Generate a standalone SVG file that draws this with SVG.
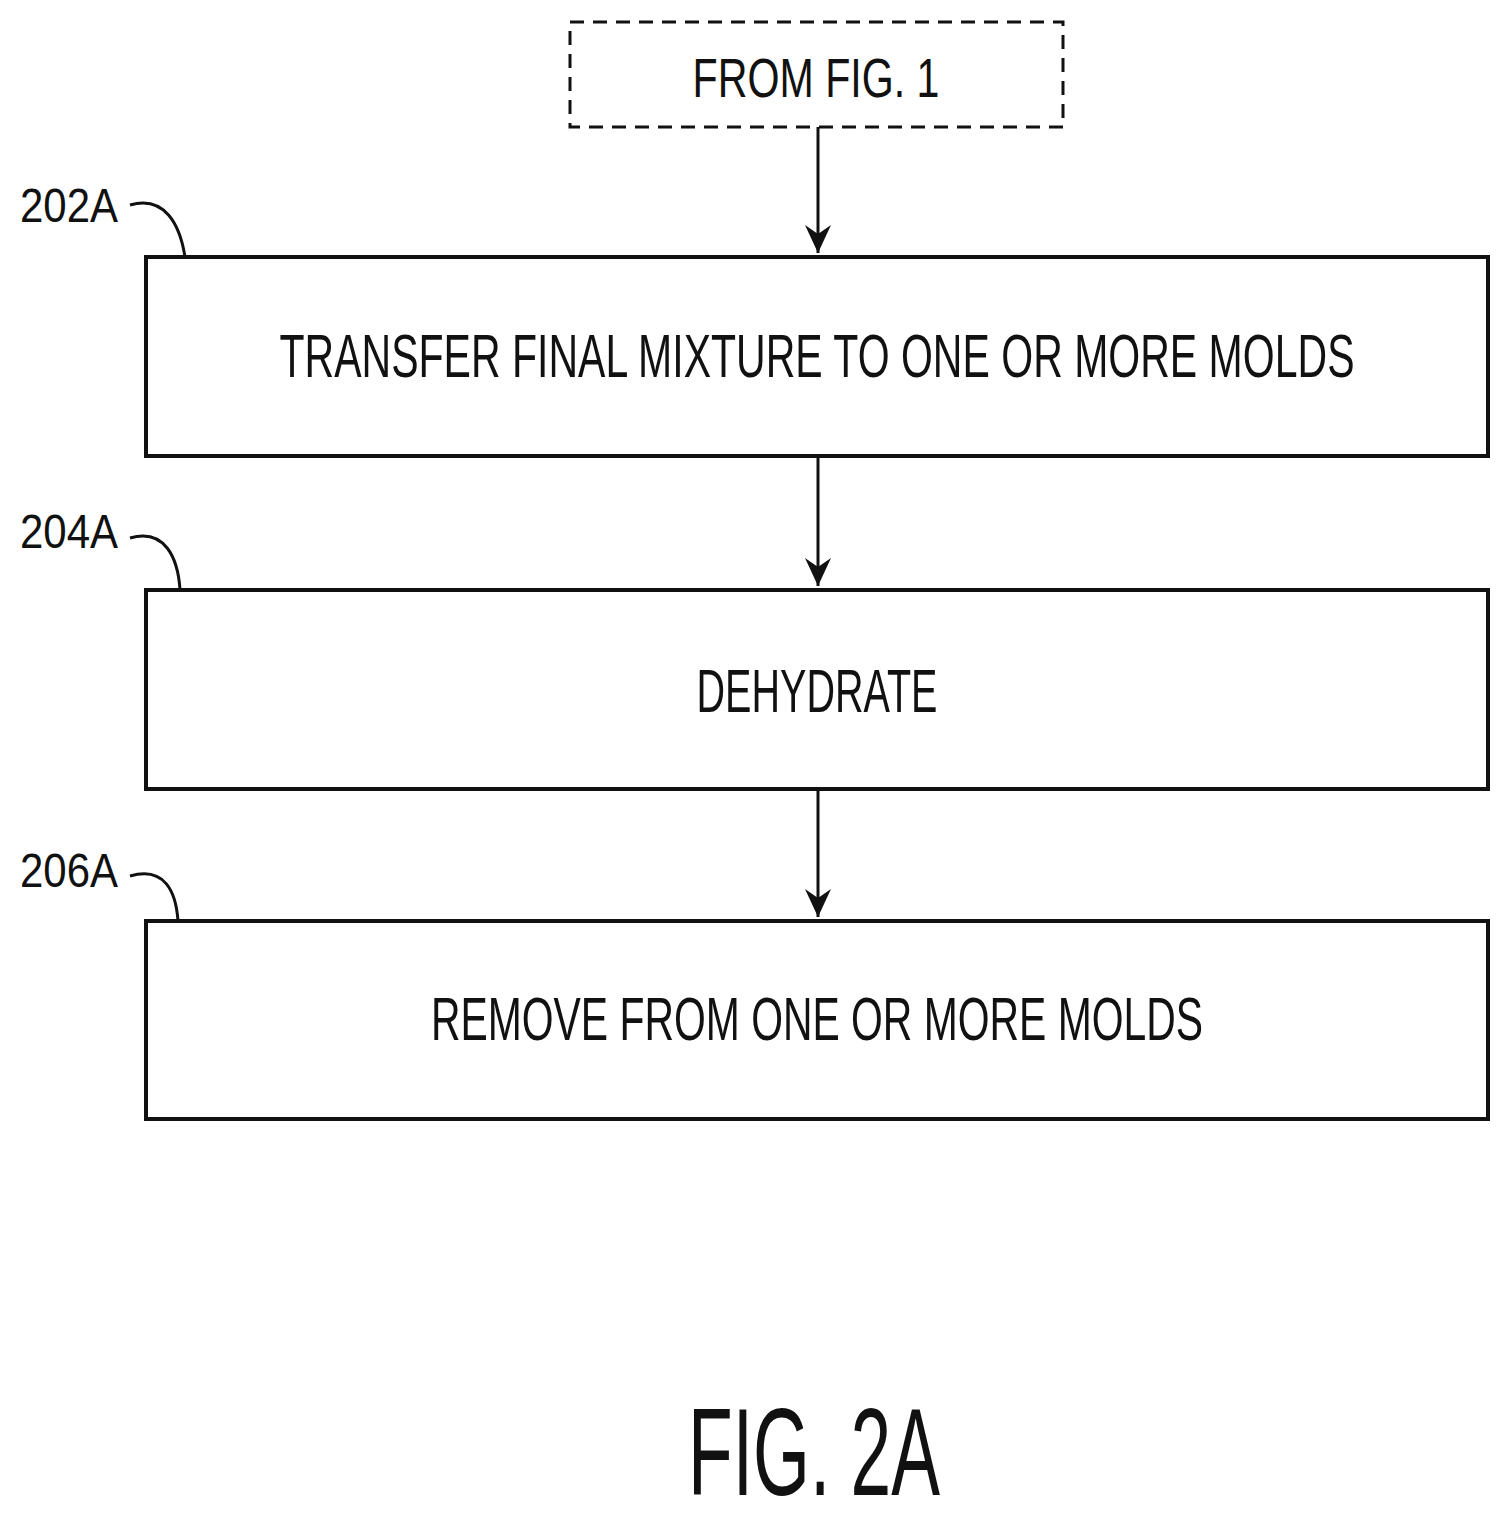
<svg xmlns="http://www.w3.org/2000/svg" width="1512" height="1517" viewBox="0 0 1512 1517">
<defs>
<style>
.box{fill:#fff;stroke:#111;stroke-width:4}
.t{font-family:"Liberation Sans",Arial,sans-serif;fill:#111;text-anchor:middle}
.lbl{font-family:"Liberation Sans",Arial,sans-serif;fill:#111;font-size:48px}
.ln{stroke:#111;stroke-width:3;fill:none}
</style>
<marker id="ah" markerWidth="30" markerHeight="30" refX="28" refY="15" orient="auto" markerUnits="userSpaceOnUse" viewBox="0 0 30 30">
<path d="M0 2 L28 15 L0 28 L9 15 Z" fill="#111"/>
</marker>
</defs>
<rect width="1512" height="1517" fill="#fff"/>
<g id="start"><rect x="570" y="22" width="493" height="105" fill="#fff" stroke="#111" stroke-width="3" stroke-dasharray="14 9"/>
<text class="t" x="816" y="97" font-size="55" textLength="247" lengthAdjust="spacingAndGlyphs">FROM FIG. 1</text></g>
<g id="n202"><rect class="box" x="146" y="257" width="1342" height="199"/>
<text class="t" x="817" y="377" font-size="62" textLength="1075" lengthAdjust="spacingAndGlyphs">TRANSFER FINAL MIXTURE TO ONE OR MORE MOLDS</text>
<text class="lbl" x="20" y="222" textLength="98" lengthAdjust="spacingAndGlyphs">202A</text>
<path class="ln" d="M130 205 C165 195 180 225 185 257"/></g>
<g id="n204"><rect class="box" x="146" y="590" width="1342" height="199"/>
<text class="t" x="817" y="712" font-size="62" textLength="241" lengthAdjust="spacingAndGlyphs">DEHYDRATE</text>
<text class="lbl" x="20" y="548" textLength="98" lengthAdjust="spacingAndGlyphs">204A</text>
<path class="ln" d="M130 538 C165 528 178 558 180 590"/></g>
<g id="n206"><rect class="box" x="146" y="921" width="1342" height="198"/>
<text class="t" x="817" y="1040" font-size="62" textLength="772" lengthAdjust="spacingAndGlyphs">REMOVE FROM ONE OR MORE MOLDS</text>
<text class="lbl" x="20" y="887" textLength="98" lengthAdjust="spacingAndGlyphs">206A</text>
<path class="ln" d="M130 876 C165 866 176 892 178 921"/></g>
<g id="connectors">
<line class="ln" x1="818" y1="127" x2="818" y2="253" marker-end="url(#ah)"/>
<line class="ln" x1="818" y1="456" x2="818" y2="586" marker-end="url(#ah)"/>
<line class="ln" x1="818" y1="789" x2="818" y2="917" marker-end="url(#ah)"/>
</g>
<text class="t" x="814" y="1495" font-size="125" textLength="252" lengthAdjust="spacingAndGlyphs">FIG. 2A</text>
</svg>
